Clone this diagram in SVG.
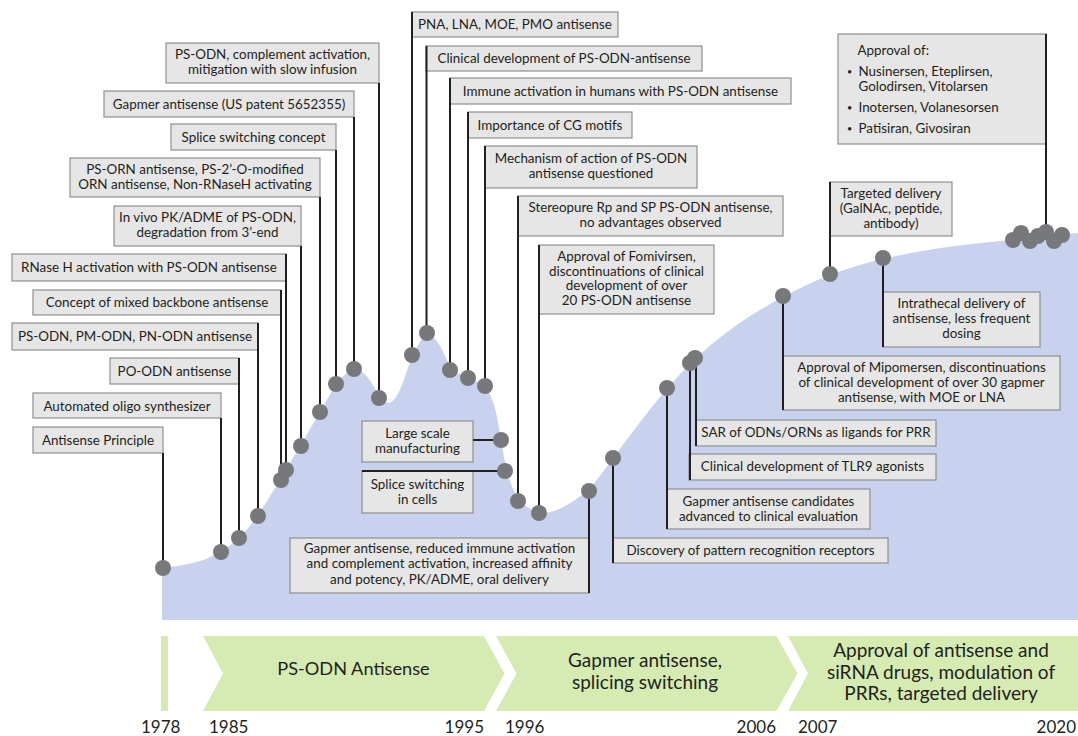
<svg xmlns="http://www.w3.org/2000/svg" width="1078" height="736" viewBox="0 0 1078 736">
<style>
.box{fill:#e6e6e6;stroke:#8f8f8f;stroke-width:1.2}
.t{font-family:Lato,"Open Sans",sans-serif;font-size:13.4px;fill:#231f20;text-anchor:middle}
.s{text-anchor:start}
.e{text-anchor:end}
.b{font-size:9px}
.c{stroke:#231f20;stroke-width:2;fill:none}
.dot{fill:#77787b}
.chev{fill:#d6ebb2}
.yr{font-size:17px}
.ph{font-size:19px}
</style>
<rect width="1078" height="736" fill="#ffffff"/>
<path id="area" fill="#c8d2ee" d="M162,568 Q195,564 208,558 Q221,552 230.5,545 Q240,538 249,527 Q258,516 269.5,497 Q281,478 290.5,462 Q300,446 310,429 Q320,412 328.5,397 Q337,382 345.5,374 Q354,366 361,371 Q368,376 374,387 Q380,398 385,401.5 Q390,405 395,398.5 Q400,392 406,373.5 Q412,355 419.5,342.5 Q427,330 433.5,337 Q440,344 445.5,357 Q451,370 459.5,374 Q468,378 477,382 Q486,386 490.5,395.5 Q495,405 498,422.5 Q501,440 504,457 Q507,474 512.5,487.5 Q518,501 528,507.5 Q538,514 548,512.5 Q558,511 573.5,501 Q589,491 601,474.5 Q613,458 626.5,440 Q640,422 653.5,405 Q667,388 681,373 Q695,358 715,341.5 Q735,325 759,310.5 Q783,296 806.5,285 Q830,274 856.5,266 Q883,258 916.5,252 Q950,246 981,243 Q1012,240 1078,233 L1078,620 L162,620 Z"/>

<g id="phases">
<rect class="chev" x="161" y="636" width="7" height="75"/>
<polygon class="chev" points="203,636 484,636 504.5,673.5 484,711 203,711 223,673.5"/>
<polygon class="chev" points="496,636 776.5,636 797.5,673.5 776.5,711 496,711 516.5,673.5"/>
<polygon class="chev" points="788,636 1078,636 1078,711 788,711 808,673.5"/>
<text class="t ph" x="353.5" y="675" style="font-size:18.2px">PS-ODN Antisense</text>
<text class="t ph" x="645" y="667">Gapmer antisense,</text>
<text class="t ph" x="645" y="689">splicing switching</text>
<text class="t ph" x="941" y="657">Approval of antisense and</text>
<text class="t ph" x="941" y="679">siRNA drugs, modulation of</text>
<text class="t ph" x="941" y="700">PRRs, targeted delivery</text>
</g>
<g id="years">
<text class="t yr s" x="141" y="733">1978</text>
<text class="t yr s" x="209" y="733">1985</text>
<text class="t yr e" x="484" y="733">1995</text>
<text class="t yr s" x="505" y="733">1996</text>
<text class="t yr e" x="776" y="733">2006</text>
<text class="t yr s" x="798" y="733">2007</text>
<text class="t yr e" x="1076" y="733">2020</text>
</g>

<g id="n1"><rect class="box" x="33" y="427" width="130" height="26"/><text class="t" x="98" y="445">Antisense Principle</text></g>
<g id="n2"><rect class="box" x="33" y="393" width="188" height="25"/><text class="t" x="127" y="410.5">Automated oligo synthesizer</text></g>
<g id="n3"><rect class="box" x="110" y="358" width="129" height="26"/><text class="t" x="174.5" y="375.5">PO-ODN antisense</text></g>
<g id="n4"><rect class="box" x="12" y="323" width="246" height="27"/><text class="t" x="135" y="341">PS-ODN, PM-ODN, PN-ODN antisense</text></g>
<g id="n5"><rect class="box" x="33" y="290" width="248" height="25"/><text class="t" x="157" y="307">Concept of mixed backbone antisense</text></g>
<g id="n6"><rect class="box" x="12" y="254" width="274" height="27"/><text class="t" x="149" y="272">RNase H activation with PS-ODN antisense</text></g>
<g id="n7"><rect class="box" x="114" y="206" width="187" height="40"/><text class="t" x="207.5" y="222">In vivo PK/ADME of PS-ODN,</text><text class="t" x="207.5" y="237">degradation from 3’-end</text></g>
<g id="n8"><rect class="box" x="70" y="158" width="250" height="39"/><text class="t" x="195" y="174">PS-ORN antisense, PS-2’-O-modified</text><text class="t" x="195" y="189">ORN antisense, Non-RNaseH activating</text></g>
<g id="n9"><rect class="box" x="171" y="124" width="165" height="26"/><text class="t" x="253.5" y="141.5">Splice switching concept</text></g>
<g id="n10"><rect class="box" x="104" y="91" width="250" height="26"/><text class="t" x="229" y="108.5">Gapmer antisense (US patent 5652355)</text></g>
<g id="n11"><rect class="box" x="166" y="43" width="213" height="40"/><text class="t" x="272.5" y="59">PS-ODN, complement activation,</text><text class="t" x="272.5" y="74">mitigation with slow infusion</text></g>
<g id="n12"><rect class="box" x="412" y="12" width="206" height="25"/><text class="t" x="515" y="29">PNA, LNA, MOE, PMO antisense</text></g>
<g id="n13"><rect class="box" x="426" y="46" width="276" height="25"/><text class="t" x="564" y="63">Clinical development of PS-ODN-antisense</text></g>
<g id="n14"><rect class="box" x="450" y="78" width="341" height="26"/><text class="t" x="620.5" y="95.5">Immune activation in humans with PS-ODN antisense</text></g>
<g id="n15"><rect class="box" x="468" y="112" width="164" height="26"/><text class="t" x="550" y="129.5">Importance of CG motifs</text></g>
<g id="n16"><rect class="box" x="485" y="146" width="212" height="42"/><text class="t" x="591" y="162.5">Mechanism of action of PS-ODN</text><text class="t" x="591" y="177.5">antisense questioned</text></g>
<g id="n17"><rect class="box" x="518" y="196" width="265" height="40"/><text class="t" x="650.5" y="212">Stereopure Rp and SP PS-ODN antisense,</text><text class="t" x="650.5" y="227">no advantages observed</text></g>
<g id="n18"><rect class="box" x="539" y="245" width="175" height="69"/><text class="t" x="626.5" y="261">Approval of Fomivirsen,</text><text class="t" x="626.5" y="275.5">discontinuations of clinical</text><text class="t" x="626.5" y="290">development of over</text><text class="t" x="626.5" y="304.5">20 PS-ODN antisense</text></g>
<g id="n19"><rect class="box" x="362" y="421" width="111" height="41"/><text class="t" x="417.5" y="437.5">Large scale</text><text class="t" x="417.5" y="452.5">manufacturing</text></g>
<g id="n20"><rect class="box" x="362" y="471" width="111" height="42"/><text class="t" x="417.5" y="488.5">Splice switching</text><text class="t" x="417.5" y="503.5">in cells</text></g>
<g id="n21"><rect class="box" x="290" y="538" width="299" height="55"/><text class="t" x="439.5" y="553">Gapmer antisense, reduced immune activation</text><text class="t" x="439.5" y="568">and complement activation, increased affinity</text><text class="t" x="439.5" y="583.5">and potency, PK/ADME, oral delivery</text></g>
<g id="n22"><rect class="box" x="613" y="538" width="275" height="25"/><text class="t" x="750.5" y="554.5">Discovery of pattern recognition receptors</text></g>
<g id="n23"><rect class="box" x="667" y="489" width="203" height="40"/><text class="t" x="768.5" y="505.5">Gapmer antisense candidates</text><text class="t" x="768.5" y="520.5">advanced to clinical evaluation</text></g>
<g id="n24"><rect class="box" x="689" y="454" width="247" height="26"/><text class="t" x="812.5" y="471">Clinical development of TLR9 agonists</text></g>
<g id="n25"><rect class="box" x="696" y="420" width="240" height="26"/><text class="t" x="816" y="437">SAR of ODNs/ORNs as ligands for PRR</text></g>
<g id="n26"><rect class="box" x="783" y="356" width="277" height="54"/><text class="t" x="921.5" y="372">Approval of Mipomersen, discontinuations</text><text class="t" x="921.5" y="387">of clinical development of over 30 gapmer</text><text class="t" x="921.5" y="402">antisense, with MOE or LNA</text></g>
<g id="n27"><rect class="box" x="883" y="292" width="157" height="55"/><text class="t" x="961.5" y="308">Intrathecal delivery of</text><text class="t" x="961.5" y="323">antisense, less frequent</text><text class="t" x="961.5" y="337.5">dosing</text></g>
<g id="n28"><rect class="box" x="830" y="182" width="122" height="54"/><text class="t" x="891" y="198">Targeted delivery</text><text class="t" x="891" y="213">(GalNAc, peptide,</text><text class="t" x="891" y="227.5">antibody)</text></g>
<g id="n29"><rect class="box" x="838" y="34" width="208" height="110"/>
<text class="t s" x="857.5" y="55">Approval of:</text>
<text class="t s b" x="847" y="74.5">•</text><text class="t s" x="858.5" y="76">Nusinersen, Eteplirsen,</text>
<text class="t s" x="858.5" y="91">Golodirsen, Vitolarsen</text>
<text class="t s b" x="847" y="110.5">•</text><text class="t s" x="858.5" y="112">Inotersen, Volanesorsen</text>
<text class="t s b" x="847" y="131.5">•</text><text class="t s" x="858.5" y="133">Patisiran, Givosiran</text>
</g>

<g id="connectors" class="c">
<path d="M163,453V568"/>
<path d="M221,418V552"/>
<path d="M239,358V538"/>
<path d="M258,323V516"/>
<path d="M281,290V480"/>
<path d="M286,254V470"/>
<path d="M301,246V446"/>
<path d="M320,197V412"/>
<path d="M336,150V384"/>
<path d="M354,117V369"/>
<path d="M379,83V398"/>
<path d="M412,12V355"/>
<path d="M426.5,46V333"/>
<path d="M450,78V370"/>
<path d="M468,112V378"/>
<path d="M485,146V386"/>
<path d="M518,196V501"/>
<path d="M539,245V513"/>
<path d="M473,440H501"/>
<path d="M362,471H505"/>
<path d="M589,491V593"/>
<path d="M613,458V563"/>
<path d="M667,388V529"/>
<path d="M690,363V480"/>
<path d="M696,358V446"/>
<path d="M783,296V410"/>
<path d="M883,258V347"/>
<path d="M830,182V274"/>
<path d="M1046,34V232"/>
</g>

<g id="events" class="dot">
<circle cx="163" cy="568" r="8"/>
<circle cx="221" cy="552" r="8"/>
<circle cx="239" cy="538" r="8"/>
<circle cx="258" cy="516" r="8"/>
<circle cx="281" cy="480" r="8"/>
<circle cx="286" cy="470" r="8"/>
<circle cx="301" cy="446" r="8"/>
<circle cx="320" cy="412" r="8"/>
<circle cx="336" cy="384" r="8"/>
<circle cx="354" cy="369" r="8"/>
<circle cx="379" cy="398" r="8"/>
<circle cx="412" cy="355" r="8"/>
<circle cx="427" cy="333" r="8"/>
<circle cx="450" cy="370" r="8"/>
<circle cx="468" cy="378" r="8"/>
<circle cx="485" cy="386" r="8"/>
<circle cx="501" cy="440" r="8"/>
<circle cx="505" cy="471" r="8"/>
<circle cx="518" cy="501" r="8"/>
<circle cx="539" cy="513" r="8"/>
<circle cx="589" cy="491" r="8"/>
<circle cx="613" cy="458" r="8"/>
<circle cx="667" cy="388" r="8"/>
<circle cx="690" cy="363" r="8"/>
<circle cx="695" cy="358" r="8"/>
<circle cx="783" cy="296" r="8"/>
<circle cx="830" cy="274" r="8"/>
<circle cx="883" cy="258" r="8"/>
<circle cx="1013" cy="240" r="8"/>
<circle cx="1021" cy="233" r="8"/>
<circle cx="1030" cy="241" r="8"/>
<circle cx="1038" cy="236" r="8"/>
<circle cx="1046" cy="232" r="8"/>
<circle cx="1054" cy="241" r="8"/>
<circle cx="1062" cy="235" r="8"/>
</g>
</svg>
